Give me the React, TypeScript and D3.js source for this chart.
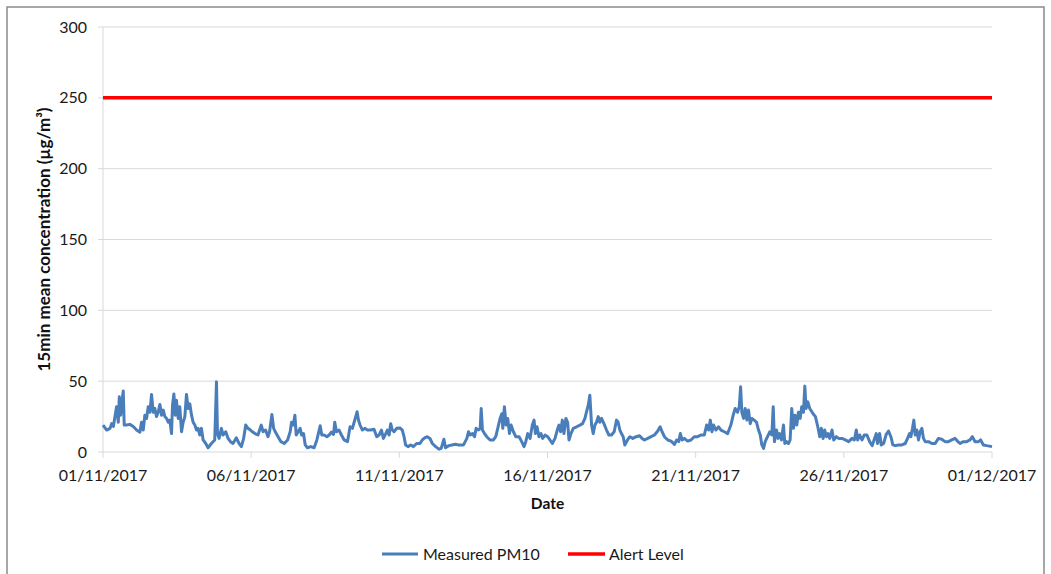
import * as d3 from "d3";
import React from "react";

// hours since 01/11/2017 00:00
const pmHours = [
  0, 3.0, 5.7, 7.0, 8.4, 9.7, 11.0, 12.4, 13.2, 14.3, 15.1, 16.4, 17.2, 19.1, 21.8, 24.5, 27.2, 29.9, 31.2, 32.6,
  33.9, 35.3, 36.6, 38.0, 39.3, 40.7, 42.0, 43.4, 44.7, 46.1, 47.4, 48.8, 50.1, 51.5, 52.8, 54.1, 55.5, 56.3, 57.4,
  58.5, 59.5, 60.9, 62.2, 63.6, 64.9, 66.3, 67.6, 69.0, 70.3, 71.7, 73.0, 74.4, 75.7, 77.0, 78.4, 79.7, 81.1, 83.2,
  85.1, 87.8, 90.5, 91.9, 92.7, 94.0, 95.9, 97.2, 99.4, 101.3, 103.2, 105.3, 108.0, 110.2, 112.1, 113.9, 115.6,
  117.4, 118.8, 120.9, 123.1, 125.5, 128.2, 129.6, 131.7, 133.6, 134.9, 136.8, 138.2, 140.3,
  144.1, 146.8, 149.5, 151.6, 152.7, 154.1, 155.4, 156.5, 158.1, 159.7, 160.8, 162.4, 163.8, 165.6, 168.3, 171.0,
  173.2, 175.1, 175.9, 177.2, 179.1, 181.3, 183.2, 185.0, 186.7, 187.7, 189.1, 191.2, 193.1, 195.3, 198.0, 200.1,
  202.0, 203.4, 204.7, 205.8, 206.9, 208.2, 210.1, 212.0, 214.1, 216.8, 219.5, 221.7, 223.6, 225.5, 227.1, 229.0,
  230.3, 231.7, 233.0, 234.3, 235.7, 237.8, 240.5, 242.4, 243.8, 245.1, 247.0, 249.2, 251.3, 254.0, 256.7, 258.6,
  260.5, 262.6, 264.8, 266.7, 269.4, 272.1, 273.9, 276.1, 277.4, 280.1, 282.8,
  285.3, 288.0, 292.0, 294.7, 296.0, 297.4, 299.3, 300.9, 302.2, 304.1, 305.5, 306.3, 307.3, 309.0, 310.8, 313.5,
  316.2, 318.1, 319.7, 321.6, 323.0, 323.8, 325.1, 326.5, 327.8, 329.2, 330.5, 332.4, 334.3, 337.0, 339.1, 341.0,
  342.4, 344.0, 345.9, 347.7, 349.1, 350.2, 351.5, 353.1, 354.7, 356.1, 358.0, 360.1, 362.0, 363.9, 366.1, 367.9,
  369.3, 370.6, 372.0, 373.3, 374.9, 376.3, 377.4, 379.0, 380.9, 383.6, 386.3, 388.4, 390.3, 391.6, 393.0, 394.3,
  395.7, 397.0, 398.4, 399.7, 401.1, 402.4, 403.8, 405.7, 407.8, 409.7, 411.8, 414.0, 415.9, 417.2, 418.6, 419.9,
  421.3, 422.6, 424.8, 426.7,
  429.1, 431.8, 434.5, 436.6, 438.5, 441.2, 443.9, 446.6, 449.3, 451.2, 452.8, 454.7, 457.4, 460.1, 462.8, 464.6,
  466.3, 467.6, 469.0, 470.8, 473.5, 476.2, 478.9, 481.6, 484.3, 487.0, 488.9, 490.5, 491.9, 493.2, 494.5, 496.4,
  498.6, 500.5, 503.2, 505.9, 508.5, 510.4, 512.0, 513.9, 515.3, 516.4, 517.4, 518.8, 520.1, 521.5, 522.8, 524.2,
  525.5, 527.4, 529.3, 530.9, 532.3, 533.6, 535.0, 536.3, 538.2, 540.1, 541.7, 542.8, 543.8, 545.5, 546.8, 548.1,
  549.5, 551.1, 552.2, 553.5, 555.2, 556.5, 557.8, 559.2, 560.5, 561.9, 563.2, 564.6, 565.9, 567.3, 568.4, 569.4,
  570.8, 572.4,
  575.1, 577.0, 578.9, 580.5, 581.8, 583.2, 584.5, 585.9, 587.2, 588.6, 590.4, 591.8, 593.9, 595.8, 598.5, 601.2,
  603.9, 606.6, 608.5, 610.1, 611.2, 612.8, 614.7, 616.6, 618.7, 620.9, 623.0, 624.9, 626.3, 627.3, 629.0, 630.3,
  632.2, 634.3, 636.2, 638.1, 639.7, 641.6, 644.3, 647.0, 649.7, 651.6, 653.2, 654.3, 655.6, 656.7, 657.8, 659.1,
  660.5, 661.8, 663.2, 664.5, 665.9, 668.6, 671.3, 674.0, 676.6, 679.3, 682.0, 684.7, 687.4, 690.1, 692.0, 694.1,
  696.8, 699.5, 702.2, 704.1, 706.3, 709.0, 710.8, 713.0, 715.7, 720,
];

// µg/m³
const pmValues = [
  19, 15.5, 16.7, 20, 18, 25, 32, 21, 39, 26, 34, 43, 19, 19, 19.5, 18, 15.5, 14, 21, 15.5,
  26, 23.7, 32, 28, 40.6, 28, 30.7, 25, 28, 33.6, 26, 29.6, 25, 23.7, 21, 22.5, 13, 33, 41,
  26, 36.6, 23.7, 32, 14.3, 21, 25, 40.6, 30.7, 34, 26, 21, 19, 15.5, 16.7, 12, 16.7, 8.5,
  6, 3, 6, 8.5, 49.5, 13, 9.6, 16.7, 12, 14.3, 9.6, 7.3, 6, 10, 6, 3.8, 9.6, 19,
  16.7, 16, 14.3, 13, 12, 19, 14.3, 15.5, 10.8, 14.3, 26.5, 16.7, 13,
  7.3, 6, 8.5, 14.3, 21, 19, 26, 12, 14.3, 16.7, 12, 13, 5, 3, 3.8, 3,
  8.5, 15.5, 18.5, 12, 12, 10.8, 12, 14, 12.4, 21, 14.3, 15.5, 12, 8.5, 7.3, 17.8,
  16.7, 21, 25, 28.4, 22.5, 19, 15.5, 16.7, 15.5, 15.5, 16, 10.8, 12, 15.5, 9.6, 13,
  15.5, 12, 20, 15.5, 14.3, 16.7, 17, 15.5, 10.8, 5, 3.8, 5, 3.8, 6, 6, 8.5,
  10, 10.8, 9.6, 6, 3.8, 2, 2.6, 9, 3, 4.5, 5,
  5.4, 5, 5, 9.6, 14.3, 12, 13, 10.8, 16.7, 15.5, 16.7, 30.7, 15.5, 13, 10.8, 8.5,
  8.5, 10.8, 16.7, 23.7, 27, 16.7, 32, 19, 23.7, 13, 19, 14.3, 10.8, 10.8, 7.3, 3.8,
  7.3, 13, 9.6, 19, 22.5, 13, 17.8, 10.8, 13, 9.6, 12, 10.8, 8.5, 6, 9.6, 15.5,
  19, 14.3, 22.5, 13, 23.7, 21, 8.5, 13, 16.7, 17.8, 19, 20, 23.7, 28.4, 33, 40,
  19, 13, 19, 21, 25, 21, 23.7, 20, 15.5, 12, 12, 14.3, 22.5, 21, 15.5, 13,
  10.8, 5, 8.5, 10.8,
  9.6, 10.8, 11.5, 9.6, 8.5, 9.6, 10.8, 12, 14.8, 17.8, 14.3, 10.8, 8.5, 7.7, 5.4, 8.5,
  7.3, 13, 8.5, 9.6, 7.7, 8.5, 10.8, 10.8, 12, 12, 19, 15.5, 22.5, 14.3, 19, 15.5,
  17.8, 15.5, 14.3, 13, 19, 26, 30.7, 28, 32, 46, 28, 23.7, 30.7, 22.5, 29.6, 20,
  23.7, 22.5, 21, 15.5, 12, 5, 2.6, 7.3, 10.8, 14.3, 12, 32, 7.3, 15.5, 9.6, 13,
  8.5, 19, 6, 7.3, 6, 8.5, 30.7, 16.7, 26, 19, 28, 23.7, 32, 28, 46.5, 30.7,
  35.4, 30.7,
  27, 25, 17.8, 10.8, 16.7, 9.6, 15.5, 10.8, 13, 9.6, 15.5, 8.5, 10.8, 9.6, 9.6, 8.5,
  7.3, 9.6, 8.5, 15.5, 8.5, 12, 8.5, 12, 12, 7.3, 4.5, 9.6, 13, 6, 13, 5,
  6, 12.4, 14.8, 10.8, 5, 4.5, 5, 5, 6, 9.6, 13, 10.8, 16.7, 22.5, 12, 15.5,
  8.5, 14.3, 16.7, 9.6, 7.3, 7.3, 6, 6, 9.6, 9, 7.3, 7.3, 8.5, 9.6, 7.7, 6,
  7.3, 7.3, 8.5, 10.8, 7.3, 7.3, 8.5, 5, 4.5, 3.8,
];

const alertLevel = 250;
const yTickValues = [0, 50, 100, 150, 200, 250, 300];
const xTickLabels = ["01/11/2017", "06/11/2017", "11/11/2017", "16/11/2017", "21/11/2017", "26/11/2017", "01/12/2017"];
const xTickHours = [0, 120, 240, 360, 480, 600, 720];

const width = 1051;
const height = 574;
const plotLeft = 103;
const plotRight = 992;
const plotTop = 27;
const plotBottom = 452;
const font = "Lato, 'Open Sans', sans-serif";

export default function App() {
  const x = d3.scaleLinear([0, 720], [plotLeft, plotRight]);
  const y = d3.scaleLinear([0, 300], [plotBottom, plotTop]);

  const points = pmHours.map((h, i) => ({ h, v: pmValues[i] }));
  const line = d3
    .line<{ h: number; v: number }>()
    .x((d) => x(d.h))
    .y((d) => y(d.v));

  return (
    <svg
      width={width}
      height={height}
      style={{ position: "absolute", left: 0, top: 0, background: "#fff" }}
      fontFamily={font}
    >
      {/* chart frame */}
      <rect x={7} y={7} width={1037} height={600} fill="none" stroke="#8a8a8a" strokeWidth={1.5} />

      {/* gridlines + y axis */}
      {yTickValues.map((v) => (
        <g key={v}>
          <line x1={plotLeft - 5} x2={plotRight} y1={y(v)} y2={y(v)} stroke="#d9d9d9" strokeWidth={1} />
          <text x={87} y={y(v)} dy="0.35em" textAnchor="end" fontSize={16} fill="#1a1a1a">
            {v}
          </text>
        </g>
      ))}
      <line x1={plotLeft} x2={plotLeft} y1={plotTop} y2={plotBottom} stroke="#d9d9d9" />

      {/* x axis */}
      {xTickHours.map((h, i) => (
        <g key={h}>
          <line x1={x(h)} x2={x(h)} y1={plotBottom} y2={plotBottom + 6} stroke="#d9d9d9" />
          <text x={x(h)} y={481} textAnchor="middle" fontSize={16} fill="#1a1a1a">
            {xTickLabels[i]}
          </text>
        </g>
      ))}

      {/* series */}
      <path d={line(points) ?? ""} fill="none" stroke="#4a7ebb" strokeWidth={3} strokeLinejoin="round" />
      <line x1={plotLeft} x2={plotRight} y1={y(alertLevel)} y2={y(alertLevel)} stroke="#ff0000" strokeWidth={3.5} />

      {/* axis titles */}
      <text x={(plotLeft + plotRight) / 2} y={509} textAnchor="middle" fontSize={15.5} fontWeight="bold" fill="#111">
        Date
      </text>
      <text
        transform={`translate(50,${(plotTop + plotBottom) / 2}) rotate(-90)`}
        textAnchor="middle"
        fontSize={17}
        fontWeight="bold"
        fill="#111"
      >
        15min mean concentration (µg/m³)
      </text>

      {/* legend */}
      <line x1={382} x2={418} y1={554} y2={554} stroke="#4a7ebb" strokeWidth={3} />
      <text x={423} y={554} dy="0.35em" fontSize={16} fill="#1a1a1a">
        Measured PM10
      </text>
      <line x1={568} x2={605} y1={554} y2={554} stroke="#ff0000" strokeWidth={3.5} />
      <text x={609} y={554} dy="0.35em" fontSize={16} fill="#1a1a1a">
        Alert Level
      </text>
    </svg>
  );
}
